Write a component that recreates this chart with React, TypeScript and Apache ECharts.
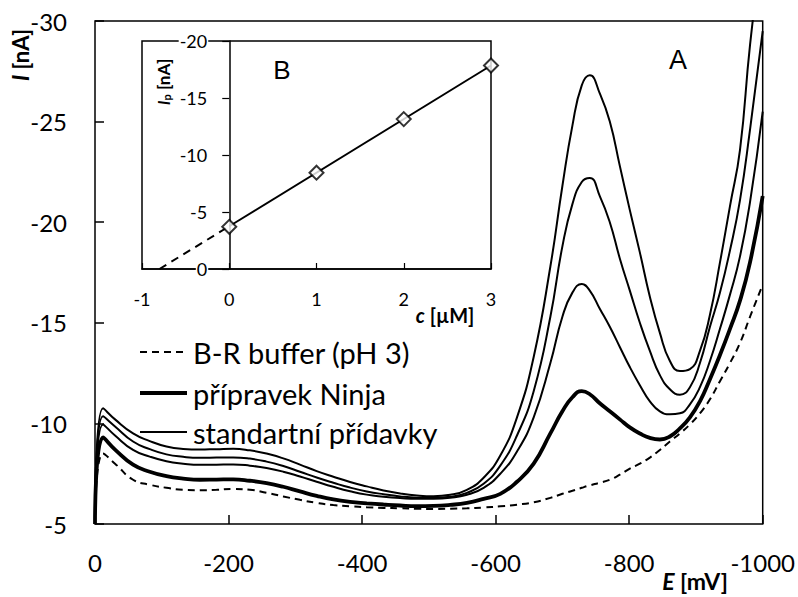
import React, { useEffect, useRef } from "react";
import * as echarts from "echarts";

// Main voltammograms: potential E [mV] and currents I [nA]
const E_MV = [0, -12, -30, -57, -82, -107, -132, -157, -182, -207, -232, -257, -282, -307, -332, -357, -382, -407, -432, -457, -482, -507, -532, -557, -582, -607, -632, -657, -682, -700, -715, -729, -741, -756, -771, -786, -801, -816, -831, -846, -861, -876, -891, -906, -921, -936, -951, -966, -981, -1000];

const BUFFER = [-5, -8.5, -8.0, -7.2, -6.95, -6.8, -6.7, -6.68, -6.7, -6.74, -6.7, -6.55, -6.37, -6.2, -6.05, -5.94, -5.88, -5.83, -5.8, -5.78, -5.76, -5.75, -5.76, -5.78, -5.82, -5.88, -5.96, -6.08, -6.3, -6.5, -6.65, -6.8, -6.92, -7.05, -7.2, -7.45, -7.75, -8.0, -8.3, -8.68, -9.1, -9.5, -9.95, -10.5, -11.2, -12.1, -13.0, -14.0, -15.3, -16.9];

const NINJA = [-5, -9.3, -8.7, -7.95, -7.6, -7.38, -7.26, -7.2, -7.21, -7.22, -7.15, -7.03, -6.85, -6.62, -6.4, -6.22, -6.1, -6.03, -5.97, -5.92, -5.89, -5.9, -5.95, -6.05, -6.25, -6.5, -7.1, -8.0, -9.5, -10.6, -11.3, -11.6, -11.45, -11.0, -10.6, -10.2, -9.8, -9.5, -9.28, -9.2, -9.35, -9.75, -10.3, -11.1, -12.2, -13.4, -14.7, -16.1, -18.0, -21.3];

const STD_1 = [-5, -9.95, -9.4, -8.68, -8.35, -8.12, -8.0, -7.94, -7.95, -7.96, -7.9, -7.78, -7.6, -7.36, -7.1, -6.85, -6.63, -6.46, -6.36, -6.29, -6.25, -6.25, -6.3, -6.45, -6.8, -7.5, -8.6, -10.3, -13.0, -15.3, -16.5, -16.93, -16.6, -15.7, -14.8, -13.8, -12.8, -11.9, -11.1, -10.6, -10.45, -10.5, -10.95, -11.8, -13.1, -14.7, -16.4, -18.3, -21.0, -25.5];

const STD_2 = [-5, -10.35, -9.85, -9.1, -8.72, -8.46, -8.34, -8.29, -8.3, -8.31, -8.25, -8.1, -7.88, -7.6, -7.31, -7.05, -6.81, -6.62, -6.48, -6.37, -6.31, -6.3, -6.35, -6.55, -7.0, -7.9, -9.4, -11.6, -15.3, -18.8, -20.9, -22.0, -22.2, -21.3, -20.0, -18.2, -16.6, -15.0, -13.6, -12.4, -11.7, -11.43, -11.8, -13.0, -14.8, -16.5, -18.6, -21.1, -24.6, -29.5];

const STD_3 = [-5, -10.75, -10.2, -9.5, -9.12, -8.85, -8.73, -8.7, -8.72, -8.74, -8.66, -8.5, -8.26, -7.95, -7.63, -7.35, -7.09, -6.87, -6.67, -6.52, -6.42, -6.38, -6.45, -6.7, -7.3, -8.4, -10.3, -13.3, -17.8, -21.8, -24.8, -26.8, -27.3, -26.4, -25.0, -22.8, -20.6, -18.5, -16.3, -14.5, -13.1, -12.6, -12.7, -13.6, -15.4, -18.0, -20.8, -23.6, -28.8, -34.0];

// Inset B: peak current vs. added concentration
const C_UM = [0, 1, 2, 3];
const IP_NA = [-3.7, -8.45, -13.15, -17.85];
const FIT_C = [0, 3];
const FIT_I = [-3.75, -17.85];
const EXTRAP_C = [-0.8, 0];
const EXTRAP_I = [0, -3.75];

const MAIN_X_TICKS = { min: -1000, max: 0, interval: 200 };
const MAIN_Y_TICKS = { min: -30, max: -5, interval: 5 };
const INSET_X_TICKS = { min: -1, max: 3, interval: 1 };
const INSET_Y_TICKS = { min: -20, max: 0, interval: 5 };

const LEGEND_NAMES = ["B-R buffer (pH 3)", "přípravek Ninja", "standartní přídavky"];

const FONT = "Lato, 'Open Sans', sans-serif";

const pairs = (xs: number[], ys: number[]) => xs.map((x, i) => [x, ys[i]]);
const plain = (v: number) => String(v);

export default function App() {
  const ref = useRef<HTMLDivElement>(null);

  useEffect(() => {
    document.body.style.margin = "0";
    if (!ref.current) return;
    const chart = echarts.init(ref.current, undefined, { renderer: "svg" });

    const thinLine = { color: "#000", width: 2 };
    const dashedLine = { color: "#000", width: 2, type: [7, 5] };
    const thickLine = { color: "#000", width: 3.8 };
    const mainLineSeries = (name: string, ys: number[], lineStyle: any, z = 2) => ({
      type: "line",
      name,
      xAxisIndex: 0,
      yAxisIndex: 0,
      data: pairs(E_MV, ys),
      symbol: "none",
      showSymbol: false,
      smooth: 0.5,
      lineStyle,
      itemStyle: { color: "#000" },
      z,
    });

    const legendStyles = [dashedLine, thickLine, thinLine];
    const legendY = [352, 393, 432];
    const legendGraphics: any[] = [];
    LEGEND_NAMES.forEach((name, i) => {
      const ls = legendStyles[i];
      legendGraphics.push({
        type: "line",
        shape: { x1: 140, y1: legendY[i], x2: 187, y2: legendY[i] },
        style: { stroke: "#000", lineWidth: ls.width, lineDash: (ls as any).type || null },
        z: 10,
      });
      legendGraphics.push({
        type: "text",
        x: 193,
        y: legendY[i],
        style: { text: name, fontFamily: FONT, fontSize: 29, fill: "#000", textAlign: "left", textVerticalAlign: "middle" },
        z: 10,
      });
    });

    const option: any = {
      animation: false,
      backgroundColor: "#fff",
      grid: [
        { left: 95, top: 21, width: 668, height: 503, show: true, borderColor: "#000", borderWidth: 1.5, backgroundColor: "transparent" },
        { left: 142, top: 41, width: 349, height: 228, show: true, borderColor: "#000", borderWidth: 1.5, backgroundColor: "#fff", z: 3 },
      ],
      xAxis: [
        {
          type: "value",
          gridIndex: 0,
          inverse: true,
          ...MAIN_X_TICKS,
          axisLine: { show: false },
          axisTick: { show: true, inside: true, length: 9, lineStyle: { color: "#000", width: 1.5 } },
          axisLabel: { color: "#000", fontFamily: FONT, fontSize: 24, margin: 26, formatter: plain },
          splitLine: { show: false },
        },
        {
          type: "value",
          gridIndex: 1,
          ...INSET_X_TICKS,
          axisLine: { show: true, onZero: false, lineStyle: { color: "#000", width: 1.5 } },
          axisTick: { show: true, inside: true, length: 6, lineStyle: { color: "#000", width: 1.2 } },
          axisLabel: { color: "#000", fontFamily: FONT, fontSize: 18, margin: 21, formatter: plain },
          splitLine: { show: false },
          z: 4,
        },
      ],
      yAxis: [
        {
          type: "value",
          gridIndex: 0,
          inverse: true,
          ...MAIN_Y_TICKS,
          axisLine: { show: false },
          axisTick: { show: true, inside: true, length: 9, lineStyle: { color: "#000", width: 1.5 } },
          axisLabel: { color: "#000", fontFamily: FONT, fontSize: 24, margin: 28, formatter: plain },
          splitLine: { show: false },
        },
        {
          type: "value",
          gridIndex: 1,
          inverse: true,
          position: "left",
          offset: -87.25,
          ...INSET_Y_TICKS,
          axisLine: { show: true, onZero: false, lineStyle: { color: "#000", width: 1.5 } },
          axisTick: { show: true, inside: false, length: 7, lineStyle: { color: "#000", width: 1.2 } },
          axisLabel: { color: "#000", fontFamily: FONT, fontSize: 18, margin: 21, backgroundColor: "#fff", padding: [0, 1], formatter: plain },
          splitLine: { show: false },
          z: 4,
        },
      ],
      series: [
        mainLineSeries(LEGEND_NAMES[0], BUFFER, dashedLine),
        mainLineSeries(LEGEND_NAMES[2], STD_1, thinLine),
        mainLineSeries(LEGEND_NAMES[2], STD_2, thinLine),
        mainLineSeries(LEGEND_NAMES[2], STD_3, thinLine),
        mainLineSeries(LEGEND_NAMES[1], NINJA, thickLine, 3),
        {
          type: "line",
          name: "extrapolation",
          xAxisIndex: 1,
          yAxisIndex: 1,
          data: pairs(EXTRAP_C, EXTRAP_I),
          symbol: "none",
          lineStyle: { color: "#000", width: 2, type: [8, 6] },
          z: 5,
        },
        {
          type: "line",
          name: "fit",
          xAxisIndex: 1,
          yAxisIndex: 1,
          data: pairs(FIT_C, FIT_I),
          symbol: "none",
          lineStyle: { color: "#000", width: 2 },
          z: 5,
        },
        {
          type: "scatter",
          name: "Ip",
          xAxisIndex: 1,
          yAxisIndex: 1,
          data: pairs(C_UM, IP_NA),
          symbol: "diamond",
          symbolSize: 14,
          itemStyle: { color: "#fff", borderColor: "#000", borderWidth: 2 },
          z: 6,
        },
      ],
      graphic: [
        ...legendGraphics,
        { type: "text", x: 678, y: 60, style: { text: "A", fontFamily: "'Liberation Sans', Arial, sans-serif", fontSize: 27, fill: "#000", textAlign: "center", textVerticalAlign: "middle" }, z: 10 },
        { type: "text", x: 282, y: 70, style: { text: "B", fontFamily: "'Liberation Sans', Arial, sans-serif", fontSize: 26, fill: "#000", textAlign: "center", textVerticalAlign: "middle" }, z: 10 },
        {
          type: "text", x: 695, y: 581,
          style: {
            text: "{i|E} [mV]", fontFamily: FONT, fontSize: 23, fontWeight: "bold", fill: "#000", textAlign: "center", textVerticalAlign: "middle",
            rich: { i: { fontFamily: FONT, fontSize: 23, fontWeight: "bold", fontStyle: "italic", fill: "#000" } },
          },
          z: 10,
        },
        {
          type: "text", x: 20, y: 55, rotation: Math.PI / 2,
          style: {
            text: "{i|I} [nA]", fontFamily: FONT, fontSize: 22, fontWeight: "bold", fill: "#000", textAlign: "center", textVerticalAlign: "middle",
            rich: { i: { fontFamily: FONT, fontSize: 22, fontWeight: "bold", fontStyle: "italic", fill: "#000" } },
          },
          z: 10,
        },
        {
          type: "text", x: 163, y: 82, rotation: Math.PI / 2,
          style: {
            text: "{i|I}{s|p} [nA]", fontFamily: FONT, fontSize: 17, fontWeight: "bold", fill: "#000", textAlign: "center", textVerticalAlign: "middle",
            rich: {
              i: { fontFamily: FONT, fontSize: 17, fontWeight: "bold", fontStyle: "italic", fill: "#000" },
              s: { fontFamily: FONT, fontSize: 11, fontWeight: "bold", fill: "#000", verticalAlign: "bottom", padding: [6, 0, 0, 0] },
            },
          },
          z: 10,
        },
        {
          type: "text", x: 445, y: 315,
          style: {
            text: "{i|c} [µM]", fontFamily: FONT, fontSize: 20, fontWeight: "bold", fill: "#000", textAlign: "center", textVerticalAlign: "middle",
            rich: { i: { fontFamily: FONT, fontSize: 20, fontWeight: "bold", fontStyle: "italic", fill: "#000" } },
          },
          z: 10,
        },
      ],
    };

    chart.setOption(option);
    return () => chart.dispose();
  }, []);

  return <div ref={ref} style={{ position: "fixed", left: 0, top: 0, width: 798, height: 597 }} />;
}
